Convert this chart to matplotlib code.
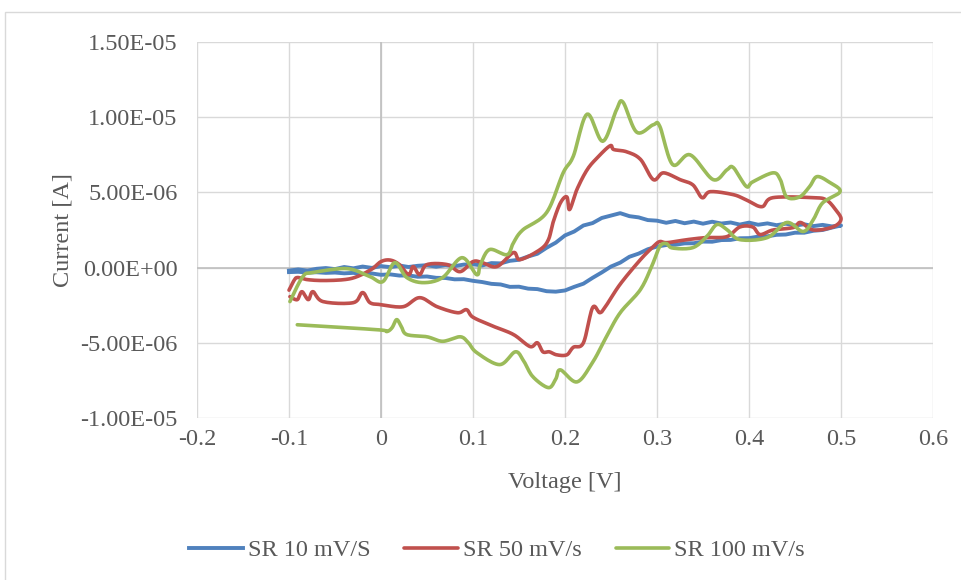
import numpy as np
import matplotlib
matplotlib.use("Agg")
import matplotlib.pyplot as plt
from matplotlib.patches import Rectangle

# ---- data (voltage in V, current in microamps) ----
sr10_v = [-0.10, -0.09, -0.08, -0.07, -0.06, -0.05, -0.04, -0.03, -0.02, -0.01,
          0.00, 0.01, 0.02, 0.03, 0.04, 0.05, 0.06, 0.07, 0.08, 0.09,
          0.10, 0.11, 0.12, 0.13, 0.14, 0.15, 0.16, 0.17, 0.18, 0.19,
          0.20, 0.21, 0.22, 0.23, 0.24, 0.25, 0.26, 0.27, 0.28, 0.29,
          0.30, 0.31, 0.32, 0.33, 0.34, 0.35, 0.36, 0.37, 0.38, 0.39,
          0.40, 0.41, 0.42, 0.43, 0.44, 0.45, 0.46, 0.47, 0.48, 0.49, 0.50,
          0.49, 0.48, 0.47, 0.46, 0.45, 0.44, 0.43, 0.42, 0.41, 0.40,
          0.39, 0.38, 0.37, 0.36, 0.35, 0.34, 0.33, 0.32, 0.31, 0.30,
          0.29, 0.28, 0.27, 0.26, 0.25, 0.24, 0.23, 0.22, 0.21, 0.20,
          0.19, 0.18, 0.17, 0.16, 0.15, 0.14, 0.13, 0.12, 0.11, 0.10,
          0.09, 0.08, 0.07, 0.06, 0.05, 0.04, 0.03, 0.02, 0.01, 0.00,
          -0.01, -0.02, -0.03, -0.04, -0.05, -0.06, -0.07, -0.08, -0.09, -0.10]
sr10_i = [-0.20, -0.12, -0.20, -0.08, -0.03, -0.10, 0.04, -0.05, 0.07, -0.02,
          0.10, 0.03, 0.14, 0.04, 0.12, 0.16, 0.06, 0.17, 0.10, 0.20,
          0.22, 0.14, 0.30, 0.28, 0.45, 0.52, 0.74, 0.92, 1.32, 1.66,
          2.14, 2.40, 2.80, 2.96, 3.30, 3.46, 3.62, 3.42, 3.34, 3.16,
          3.12, 2.98, 3.10, 2.95, 3.06, 2.92, 3.05, 2.93, 3.00, 2.86,
          2.99, 2.85, 2.94, 2.82, 2.92, 2.80, 2.88, 2.76, 2.84, 2.74, 2.80,
          2.66, 2.50, 2.45, 2.32, 2.32, 2.20, 2.18, 2.08, 2.06, 1.96,
          1.95, 1.84, 1.83, 1.72, 1.73, 1.62, 1.61, 1.52, 1.50, 1.40,
          1.22, 0.93, 0.72, 0.33, 0.07, -0.32, -0.68, -1.07, -1.28, -1.52,
          -1.60, -1.57, -1.43, -1.40, -1.27, -1.28, -1.12, -1.08, -0.96, -0.88,
          -0.77, -0.78, -0.69, -0.68, -0.59, -0.61, -0.52, -0.53, -0.45, -0.48,
          -0.39, -0.43, -0.35, -0.38, -0.33, -0.35, -0.31, -0.33, -0.28, -0.30]

sr50_v = [-0.100, -0.095, -0.091, -0.080, -0.063, -0.040, -0.026, -0.010, 0.000, 0.010,
          0.020, 0.030, 0.035, 0.042, 0.050, 0.072, 0.086, 0.100, 0.110, 0.126,
          0.144, 0.151, 0.173, 0.182, 0.187, 0.195, 0.202, 0.205, 0.213, 0.224,
          0.235, 0.249, 0.253, 0.267, 0.282, 0.296, 0.307, 0.325, 0.339, 0.349,
          0.358, 0.383, 0.397, 0.414, 0.426, 0.470, 0.484, 0.494, 0.500,
          0.491, 0.470, 0.456, 0.448, 0.426, 0.412, 0.404, 0.390, 0.376, 0.354,
          0.333, 0.311, 0.303, 0.296, 0.282, 0.260, 0.245, 0.238, 0.230, 0.220,
          0.209, 0.202, 0.191, 0.183, 0.176, 0.170, 0.162, 0.144, 0.122, 0.100,
          0.093, 0.083, 0.061, 0.042, 0.024, 0.000, -0.012, -0.020, -0.030, -0.063,
          -0.074, -0.079, -0.086, -0.091, -0.099]
sr50_i = [-1.50, -0.90, -0.66, -0.80, -0.86, -0.80, -0.60, -0.10, 0.40, 0.50,
          0.20, -0.47, 0.07, -0.47, 0.20, 0.20, -0.27, 0.40, 0.33, 0.07,
          1.00, 0.53, 1.20, 1.86, 3.00, 4.30, 4.70, 3.86, 5.20, 6.50,
          7.30, 8.10, 7.85, 7.70, 7.20, 5.85, 6.30, 5.85, 5.50, 4.65,
          5.05, 4.85, 4.50, 4.05, 4.65, 4.65, 4.50, 3.86, 3.20,
          2.70, 2.50, 3.00, 2.66, 2.50, 2.20, 2.70, 2.70, 2.06, 2.00,
          1.86, 1.66, 1.73, 1.40, 0.53, -1.10, -2.50, -3.00, -2.66, -5.00,
          -5.30, -5.80, -5.80, -5.60, -5.60, -5.00, -5.25, -4.45, -3.90, -3.30,
          -2.80, -3.00, -2.60, -2.00, -2.60, -2.46, -2.33, -1.66, -2.33, -2.26,
          -1.60, -2.13, -1.60, -2.13, -1.93]

sr100_v = [-0.091, -0.050, 0.000, 0.0065, 0.012, 0.017, 0.022, 0.028, 0.050, 0.067,
           0.086, 0.095, 0.104, 0.129, 0.146, 0.155, 0.165, 0.182, 0.190, 0.195,
           0.213, 0.230, 0.245, 0.260, 0.282, 0.295, 0.303, 0.310, 0.317, 0.339,
           0.354, 0.365, 0.376, 0.390, 0.420, 0.441, 0.459, 0.470, 0.480, 0.499,
           0.488, 0.474, 0.466, 0.455, 0.441, 0.434, 0.426, 0.404, 0.397, 0.383,
           0.376, 0.361, 0.336, 0.317, 0.303, 0.296, 0.278, 0.263, 0.256, 0.241,
           0.224, 0.209, 0.198, 0.180, 0.154, 0.144, 0.137, 0.118, 0.108, 0.104,
           0.088, 0.067, 0.046, 0.028, 0.015, 0.002, -0.012, -0.037, -0.074, -0.085,
           -0.099]
sr100_i = [-3.80, -3.95, -4.15, -4.25, -4.00, -3.46, -3.90, -4.45, -4.60, -4.90,
           -4.60, -5.00, -5.65, -6.45, -5.60, -6.20, -7.25, -7.98, -7.40, -6.80,
           -7.60, -6.30, -4.60, -3.00, -1.46, 0.20, 1.40, 1.60, 1.30, 1.33,
           2.06, 2.86, 2.53, 1.86, 2.00, 3.00, 2.40, 3.20, 4.30, 5.05,
           5.65, 6.05, 5.40, 4.70, 4.70, 5.85, 6.30, 5.70, 5.40, 6.65,
           6.50, 5.85, 7.50, 6.85, 9.40, 9.50, 9.00, 11.00, 10.50, 8.40,
           10.20, 7.40, 6.30, 3.66, 2.50, 1.66, 0.86, 1.20, 0.20, -0.47,
           0.66, -0.66, -1.00, -0.66, 0.33, -0.93, -0.60, -0.07, -0.33, -0.60,
           -2.26]

labels = ["SR 10 mV/S", "SR 50 mV/s", "SR 100 mV/s"]
colors = ["#4F81BD", "#C0504D", "#9BBB59"]

x_ticks = [-0.2, -0.1, 0, 0.1, 0.2, 0.3, 0.4, 0.5, 0.6]
y_ticks = [-1.0e-05, -5.0e-06, 0.0, 5.0e-06, 1.0e-05, 1.5e-05]


def smooth(xs, ys, n=12):
    """Catmull-Rom spline through the sampled points (smoothed line look)."""
    p = np.column_stack([xs, ys]).astype(float)
    p = np.vstack([p[0], p, p[-1]])
    out = []
    t = np.linspace(0, 1, n, endpoint=False)[:, None]
    for k in range(1, len(p) - 2):
        p0, p1, p2, p3 = p[k - 1], p[k], p[k + 1], p[k + 2]
        seg = 0.5 * ((2 * p1) + (-p0 + p2) * t + (2 * p0 - 5 * p1 + 4 * p2 - p3) * t ** 2
                     + (-p0 + 3 * p1 - 3 * p2 + p3) * t ** 3)
        out.append(seg)
    out.append(p[-2][None, :])
    out = np.vstack(out)
    return out[:, 0], out[:, 1]


plt.rcParams["font.family"] = ["Liberation Serif", "DejaVu Serif"]
W, H = 961, 580
FS = 17.5
fig = plt.figure(figsize=(W / 100, H / 100), dpi=100)

# chart border (runs off the right and bottom edges)
fig.patches.append(Rectangle((5 / W, -0.5), 2, 1.5 - 12 / H, transform=fig.transFigure,
                             fill=False, edgecolor="#d9d9d9", linewidth=1.0))

ax = fig.add_axes([197 / W, (H - 418) / H, 736 / W, 376 / H])
for s in ax.spines.values():
    s.set_visible(False)

ax.set_xlim(-0.2, 0.6)
ax.set_ylim(-1.0e-05, 1.5e-05)
ax.set_xticks(x_ticks)
ax.set_yticks(y_ticks)
ax.set_xticklabels([f"{t:g}" for t in x_ticks])
ax.set_yticklabels([f"{t:.2E}" for t in y_ticks])
ax.tick_params(length=0, labelsize=FS, colors="#595959")
ax.tick_params(axis="y", pad=14)
ax.tick_params(axis="x", pad=8)
ax.grid(True, color="#d9d9d9", linewidth=1.0)
ax.set_axisbelow(True)
ax.axhline(0, color="#bfbfbf", linewidth=1.2, zorder=1)
ax.axvline(0, color="#bfbfbf", linewidth=1.2, zorder=1)

sx, sy = np.array(sr10_v), np.array(sr10_i) * 1e-6
ax.plot(sx, sy, color=colors[0], linewidth=2.8, label=labels[0], zorder=3,
        solid_joinstyle="round")
for v, i, c, lab in [(sr50_v, sr50_i, colors[1], labels[1]),
                     (sr100_v, sr100_i, colors[2], labels[2])]:
    xs, ys = smooth(v, i)
    ax.plot(xs, ys * 1e-6, color=c, linewidth=2.6, label=lab, zorder=3,
            solid_capstyle="round", solid_joinstyle="round")

ax.set_xlabel("Voltage [V]", fontsize=FS, color="#595959", labelpad=16)
ax.set_ylabel("Current [A]", fontsize=FS, color="#595959", labelpad=5)

fig.legend(loc="center", bbox_to_anchor=(497 / W, 1 - 550 / H), ncol=3,
           frameon=False, fontsize=FS, handlelength=2.2, handletextpad=0.2,
           columnspacing=1.4, labelcolor="#595959")

fig.savefig("out.png", dpi=100)
